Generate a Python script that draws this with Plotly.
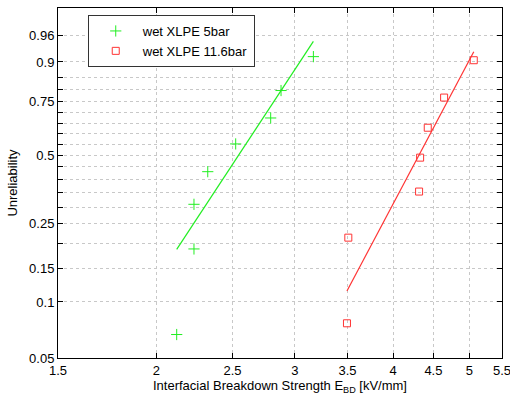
import numpy as np
import plotly.graph_objects as go

# ---- data ----
e_5bar = [2.123, 2.233, 2.233, 2.325, 2.523, 2.795, 2.881, 3.167]
F_5bar = [0.067, 0.188, 0.309, 0.430, 0.552, 0.674, 0.797, 0.915]

e_11bar = [3.494, 3.508, 4.315, 4.328, 4.426, 4.643, 5.064]
F_11bar = [0.077, 0.214, 0.353, 0.490, 0.628, 0.767, 0.905]

# Weibull fit parameters (shape, scale) of the drawn lines
fit_5bar = (6.68, 2.687)
fit_11bar = (8.286, 4.507)

x_ticks = [1.5, 2, 2.5, 3, 3.5, 4, 4.5, 5, 5.5]
y_grid = [0.1, 0.15, 0.2, 0.25, 0.3, 0.35, 0.4, 0.45, 0.5, 0.55, 0.6,
          0.65, 0.7, 0.75, 0.8, 0.85, 0.9, 0.96]
y_labels = {0.05: "0.05", 0.1: "0.1", 0.15: "0.15", 0.25: "0.25", 0.5: "0.5",
            0.75: "0.75", 0.9: "0.9", 0.96: "0.96"}
y_range_F = (0.05, 0.99)


def wb(F):
    return np.log(-np.log(1 - np.asarray(F, dtype=float)))


def fit_line(xs, params):
    k, lam = params
    xx = np.array([min(xs), max(xs)])
    return xx, k * (np.log(xx) - np.log(lam))


green = "#22ee22"
red = "#ff3333"

fig = go.Figure()
fig.add_trace(go.Scatter(x=e_5bar, y=wb(F_5bar), mode="markers", name="wet XLPE 5bar",
                         marker=dict(symbol="cross-thin-open", size=8,
                                     line=dict(color=green, width=1), color=green)))
fig.add_trace(go.Scatter(x=e_11bar, y=wb(F_11bar), mode="markers", name="wet XLPE 11.6bar",
                         marker=dict(symbol="square-open", size=7,
                                     line=dict(color=red, width=1), color=red)))
lx, ly = fit_line(e_5bar, fit_5bar)
fig.add_trace(go.Scatter(x=lx, y=ly, mode="lines", showlegend=False,
                         line=dict(color=green, width=1.2)))
lx, ly = fit_line(e_11bar, fit_11bar)
fig.add_trace(go.Scatter(x=lx, y=ly, mode="lines", showlegend=False,
                         line=dict(color=red, width=1.2)))

yt_vals = [0.05] + y_grid
fig.update_layout(
    width=510, height=399,
    margin=dict(l=58, r=8, t=8, b=41),
    paper_bgcolor="white", plot_bgcolor="white",
    font=dict(family="Liberation Sans, Arial, sans-serif", size=13, color="black"),
    xaxis=dict(type="log", range=[np.log10(1.5) - 1e-6, np.log10(5.5) + 1e-6],
               tickvals=x_ticks, ticktext=[f"{v:g}" for v in x_ticks],
               ticks="inside", ticklen=5, tickcolor="black", mirror="ticks",
               ticklabeloverflow="allow",
               showline=True, linecolor="black", linewidth=1,
               showgrid=True, gridcolor="#c8c8c8", griddash="dot", gridwidth=1,
               zeroline=False, automargin=False,
               title=dict(text="Interfacial Breakdown Strength E<sub>BD</sub> [kV/mm]",
                          standoff=4, font=dict(size=13))),
    yaxis=dict(range=[float(wb(y_range_F[0])) - 1e-6, float(wb(y_range_F[1]))],
               tickvals=list(wb(yt_vals)),
               ticktext=[y_labels.get(v, "") for v in yt_vals],
               ticks="inside", ticklen=5, tickcolor="black", mirror="ticks",
               ticklabeloverflow="allow",
               showline=True, linecolor="black", linewidth=1,
               showgrid=True, gridcolor="#c8c8c8", griddash="dot", gridwidth=1,
               zeroline=False, automargin=False,
               title=dict(text="Unreliability", standoff=8, font=dict(size=13))),
    legend=dict(x=0.067, y=0.98, xanchor="left", yanchor="top",
                bgcolor="white", bordercolor="#333333", borderwidth=1,
                font=dict(size=13), tracegroupgap=0, itemwidth=44),
)

fig.write_html("out.html", config={"displayModeBar": False},
               post_script="document.body.style.margin='0';document.body.style.overflow='hidden';")
